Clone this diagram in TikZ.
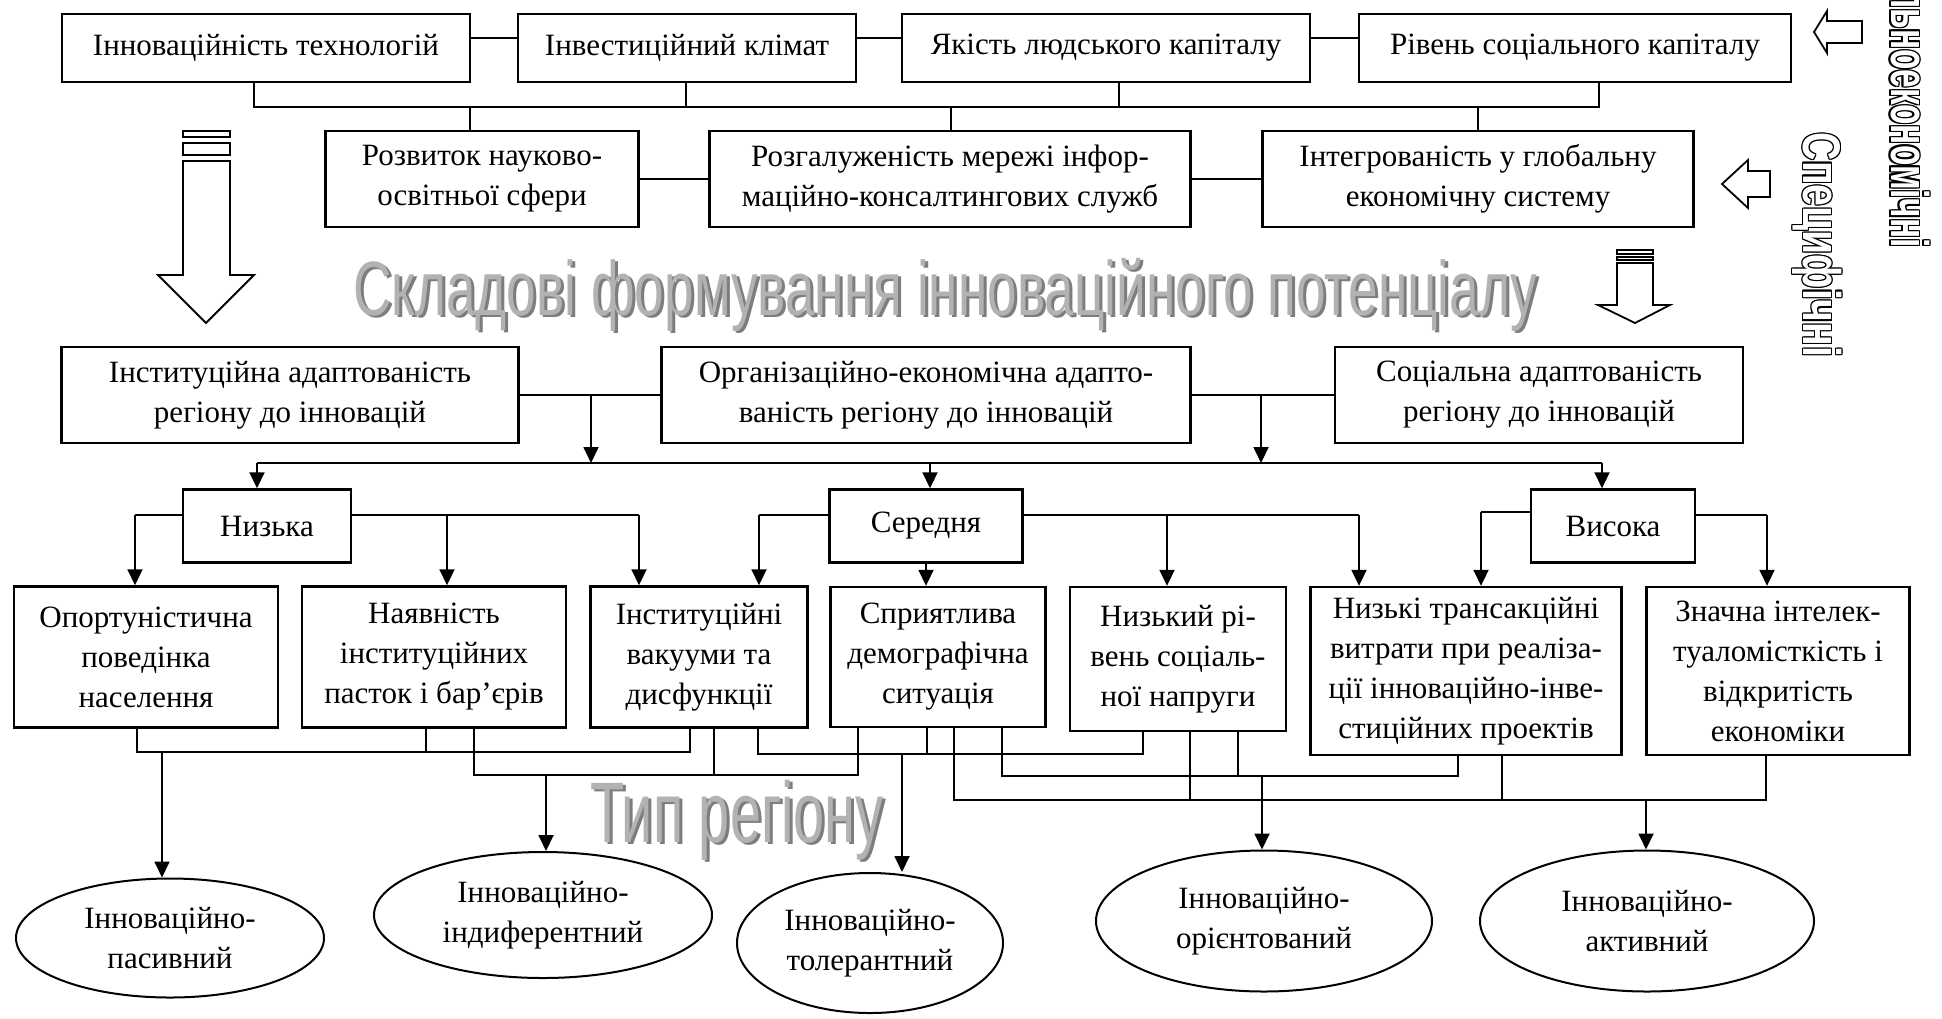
\documentclass[tikz,border=0pt]{standalone}
\usepackage{fontspec}
\setmainfont{Liberation Serif}
\newfontfamily\wordart[FakeStretch=0.69]{Liberation Sans}
\newfontfamily\wordartb[FakeStretch=0.65]{Liberation Sans}
\newfontfamily\outl[FakeStretch=0.74]{Liberation Sans}
\newfontfamily\outlb[FakeStretch=0.63]{Liberation Sans}
\usepackage{xcolor}
\definecolor{wafront}{RGB}{178,178,178}
\definecolor{waback}{RGB}{125,125,125}
\usetikzlibrary{arrows.meta,shapes.geometric}
\newcommand{\HollowText}[2][1.1pt]{%
\rlap{\hspace*{#1}#2}\rlap{\hspace*{-#1}#2}%
\rlap{\raisebox{#1}{#2}}\rlap{\raisebox{-#1}{#2}}%
\rlap{\hspace*{#1}\raisebox{#1}{#2}}\rlap{\hspace*{-#1}\raisebox{#1}{#2}}%
\rlap{\hspace*{#1}\raisebox{-#1}{#2}}\rlap{\hspace*{-#1}\raisebox{-#1}{#2}}%
\textcolor{white}{#2}}

\begin{document}
\begin{tikzpicture}[x=1pt,y=-1pt,line join=miter]
	\tikzstyle{box}=[draw,line width=2.4pt,inner sep=0pt,align=center,font=\fontsize{31}{40}\selectfont];
	\tikzstyle{oval}=[box,ellipse,line width=2pt];
	\tikzstyle{conn}=[line width=1.8pt];
	\tikzstyle{arr}=[conn,-{Triangle[length=16pt,width=15pt]}];
	\tikzstyle{hollow}=[line width=1.8pt,fill=white];
	\tikzstyle{wa}=[inner sep=0pt,anchor=base,font=\wordart\fontsize{77}{77}\selectfont];
	\tikzstyle{wab}=[inner sep=0pt,anchor=base,font=\wordartb\fontsize{86}{86}\selectfont];
	\tikzstyle{vert}=[inner sep=0pt,rotate=-90,font=\outl\bfseries\fontsize{53}{60}\selectfont];
\useasboundingbox (0,0) rectangle (1942,1018);
%<--------------------------------------------------------------------------->%

	%% factors
	\node[box,minimum width=408pt,minimum height=68pt] (tech) at (266,48)  {Інноваційність технологій};
	\node[box,minimum width=338pt,minimum height=68pt] (inv)  at (687,48)  {Інвестиційний клімат};
	\node[box,minimum width=408pt,minimum height=68pt] (hum)  at (1106,48) {Якість людського капіталу};
	\node[box,minimum width=432pt,minimum height=68pt] (soc)  at (1575,48) {Рівень соціального капіталу};
	\node[box,minimum width=313pt,minimum height=96pt] (sci)  at (482,179)  {Розвиток науково-\\освітньої сфери};
	\node[box,minimum width=481pt,minimum height=96pt] (net)  at (950,179)  {Розгалуженість мережі інфор-\\маційно-консалтингових служб};
	\node[box,minimum width=431pt,minimum height=96pt] (glob) at (1478,179) {Інтегрованість у глобальну\\економічну систему};
	%% adaptation
	\node[box,minimum width=457pt,minimum height=96pt] (inst)  at (290,395)  {Інституційна адаптованість\\регіону до інновацій};
	\node[box,minimum width=529pt,minimum height=96pt] (org)   at (926,395)  {Організаційно-економічна адапто-\\ваність регіону до інновацій};
	\node[box,minimum width=408pt,minimum height=96pt] (socad) at (1539,395) {Соціальна адаптованість\\регіону до інновацій};
	%% levels
	\node[box,minimum width=168pt,minimum height=73pt] (low)  at (267,526)  {Низька};
	\node[box,minimum width=193pt,minimum height=73pt] (mid)  at (926,526)  {Середня};
	\node[box,minimum width=164pt,minimum height=73pt] (high) at (1613,526) {Висока};
	%% features
	\node[box,minimum width=264pt,minimum height=141pt] (opp)   at (146,657)  {Опортуністична\\поведінка\\населення};
	\node[box,minimum width=264pt,minimum height=141pt] (trap)  at (434,657)  {Наявність\\інституційних\\пасток і бар’єрів};
	\node[box,minimum width=217pt,minimum height=141pt] (vac)   at (699,657)  {Інституційні\\вакууми та\\дисфункції};
	\node[box,minimum width=215pt,minimum height=140pt] (demo)  at (938,657)  {Сприятлива\\демографічна\\ситуація};
	\node[box,minimum width=216pt,minimum height=144pt] (tens)  at (1178,659) {Низький рі-\\вень соціаль-\\ної напруги};
	\node[box,minimum width=311pt,minimum height=168pt] (trans) at (1466,671) {Низькі трансакційні\\витрати при реаліза-\\ції інноваційно-інве-\\стиційних проектів};
	\node[box,minimum width=263pt,minimum height=168pt] (intel) at (1778,671) {Значна інтелек-\\туаломісткість і\\відкритість\\економіки};
	%% region types
	\node[oval,minimum width=308pt,minimum height=119pt] (pas) at (170,938)  {Інноваційно-\\пасивний};
	\node[oval,minimum width=338pt,minimum height=126pt] (ind) at (543,915)  {Інноваційно-\\індиферентний};
	\node[oval,minimum width=266pt,minimum height=140pt] (tol) at (870,943)  {Інноваційно-\\толерантний};
	\node[oval,minimum width=336pt,minimum height=141pt] (ori) at (1264,921) {Інноваційно-\\орієнтований};
	\node[oval,minimum width=334pt,minimum height=141pt] (akt) at (1647,921) {Інноваційно-\\активний};

	\coordinate (ytop) at (0,38);
	\coordinate (b1) at (254,107);
	\coordinate (b2) at (686,107);
	\coordinate (b3) at (1119,107);
	\coordinate (b4) at (1599,107);
	\coordinate (d1) at (470,107);
	\coordinate (d2) at (951,107);
	\coordinate (d3) at (1478,107);
	\coordinate (j1) at (591,395);
	\coordinate (j2) at (1261,395);
	\coordinate (h1) at (257,463);
	\coordinate (h2) at (930,463);
	\coordinate (h3) at (1602,463);
	\coordinate (n1) at (135,515);
	\coordinate (n2) at (447,515);
	\coordinate (n3) at (639,515);
	\coordinate (s1) at (759,515);
	\coordinate (s2) at (926,563);
	\coordinate (s3) at (1167,515);
	\coordinate (s4) at (1359,515);
	\coordinate (v1) at (1481,512);
	\coordinate (v2) at (1767,515);
	%% top connectors
	\draw[conn] (tech.east |- ytop) -- (inv.west |- ytop);
	\draw[conn] (inv.east |- ytop)  -- (hum.west |- ytop);
	\draw[conn] (hum.east |- ytop)  -- (soc.west |- ytop);
	\draw[conn] (tech.south -| b1) -- (b1) -- (b4) -- (soc.south -| b4);
	\draw[conn] (inv.south -| b2) -- (b2);
	\draw[conn] (hum.south -| b3) -- (b3);
	\draw[conn] (d1) -- (sci.north -| d1);
	\draw[conn] (d2) -- (net.north -| d2);
	\draw[conn] (d3) -- (glob.north -| d3);
	\draw[conn] (sci) -- (net);
	\draw[conn] (net) -- (glob);
	%% adaptation -> levels
	\draw[conn] (inst) -- (org);
	\draw[conn] (org) -- (socad);
	\draw[arr] (j1) -- (j1 |- h1);
	\draw[arr] (j2) -- (j2 |- h1);
	\draw[conn] (h1) -- (h3);
	\draw[arr] (h1) -- (low.north -| h1);
	\draw[arr] (h2) -- (mid.north -| h2);
	\draw[arr] (h3) -- (high.north -| h3);
	%% levels -> features
	\draw[conn] (low.west |- n1) -- (n1);
	\draw[conn] (low.east |- n3) -- (n3);
	\draw[arr] (n1) -- (opp.north -| n1);
	\draw[arr] (n2) -- (trap.north -| n2);
	\draw[arr] (n3) -- (vac.north -| n3);
	\draw[conn] (mid.west |- s1) -- (s1);
	\draw[arr] (s1) -- (vac.north -| s1);
	\draw[arr] (s2) -- (demo.north -| s2);
	\draw[conn] (mid.east |- s3) -- (s4);
	\draw[arr] (s3) -- (tens.north -| s3);
	\draw[arr] (s4) -- (trans.north -| s4);
	\draw[conn] (high.west |- v1) -- (v1);
	\draw[conn] (high.east |- v2) -- (v2);
	\draw[arr] (v1) -- (trans.north -| v1);
	\draw[arr] (v2) -- (intel.north -| v2);
	%% features -> region types
	\coordinate (p1) at (137,752);
	\coordinate (p2) at (426,752);
	\coordinate (p3) at (690,752);
	\coordinate (pa) at (162,752);
	\draw[conn] (opp.south -| p1) -- (p1) -- (p3) -- (vac.south -| p3);
	\draw[conn] (trap.south -| p2) -- (p2);
	\draw[arr] (pa) -- (pa |- pas.north);
	\coordinate (i1) at (474,775);
	\coordinate (i2) at (714,775);
	\coordinate (i3) at (858,775);
	\coordinate (ia) at (546,775);
	\draw[conn] (trap.south -| i1) -- (i1) -- (i3) -- (demo.south -| i3);
	\draw[conn] (vac.south -| i2) -- (i2);
	\draw[arr] (ia) -- (ia |- ind.north);
	\coordinate (t1) at (758,754);
	\coordinate (t2) at (927,754);
	\coordinate (t3) at (1143,754);
	\coordinate (ta) at (902,754);
	\draw[conn] (vac.south -| t1) -- (t1) -- (t3) -- (tens.south -| t3);
	\draw[conn] (demo.south -| t2) -- (t2);
	\draw[arr] (ta) -- (ta |- tol.north);
	\coordinate (o1) at (1002,776);
	\coordinate (o2) at (1238,776);
	\coordinate (o3) at (1458,776);
	\coordinate (oa) at (1262,776);
	\draw[conn] (demo.south -| o1) -- (o1) -- (o3) -- (trans.south -| o3);
	\draw[conn] (tens.south -| o2) -- (o2);
	\draw[arr] (oa) -- (oa |- ori.north);
	\coordinate (a1) at (954,800);
	\coordinate (a2) at (1190,800);
	\coordinate (a3) at (1502,800);
	\coordinate (a4) at (1766,800);
	\coordinate (aa) at (1646,800);
	\draw[conn] (demo.south -| a1) -- (a1) -- (a4) -- (intel.south -| a4);
	\draw[conn] (tens.south -| a2) -- (a2);
	\draw[conn] (trans.south -| a3) -- (a3);
	\draw[arr] (aa) -- (aa |- akt.north);
	%% hollow arrows
	\draw[hollow] (183,131) rectangle (230,137);
	\draw[hollow] (183,143) rectangle (230,155);
	\draw[hollow] (183,161) -- (230,161) -- (230,275) -- (254,275) -- (206,323) -- (158,275) -- (183,275) -- cycle;
	\draw[hollow] (1617,250) rectangle (1653,254);
	\draw[hollow] (1617,257) rectangle (1653,260);
	\draw[hollow] (1617,263) -- (1653,263) -- (1653,305) -- (1670,305) -- (1635,323) -- (1598,305) -- (1617,305) -- cycle;
	\draw[hollow] (1814,32) -- (1827,11) -- (1827,21) -- (1862,21) -- (1862,43) -- (1827,43) -- (1827,53) -- cycle;
	\draw[hollow] (1722,184) -- (1748,160) -- (1748,171) -- (1770,171) -- (1770,197) -- (1748,197) -- (1748,208) -- cycle;
	%% captions
	\node[wa,text=waback]  (titleb) at (948,317) {Складові формування інноваційного потенціалу};
	\node[wa,text=wafront] (title)  at (945,315) {Складові формування інноваційного потенціалу};
	\node[wab,text=waback]  (typb)   at (740,844) {Тип регіону};
	\node[wab,text=wafront] (typ)    at (737,842) {Тип регіону};
	\node[vert] (spec) at (1817,245) {\HollowText{Специфічні}};
	\node[vert,font=\outlb\bfseries\fontsize{53}{60}\selectfont,anchor=east] (gen) at (1910,248) {\HollowText{льноекономічні}};
\end{tikzpicture}
\end{document}
